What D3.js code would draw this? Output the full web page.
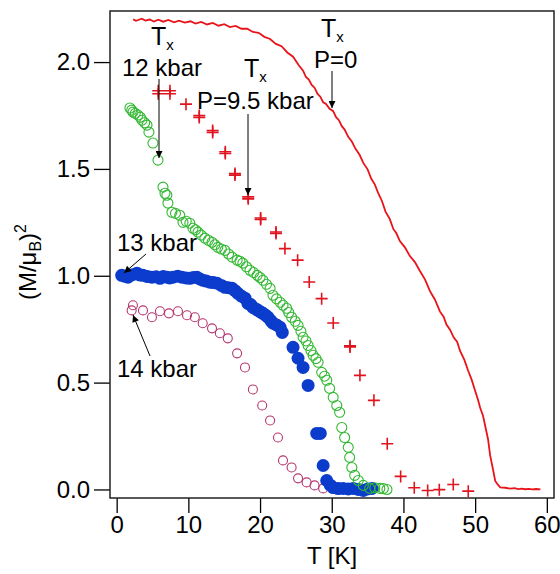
<!DOCTYPE html>
<html><head><meta charset="utf-8">
<script src="https://cdn.jsdelivr.net/npm/d3@7"></script>
<style>body{margin:0;background:#fff;} text{font-family:"Liberation Sans",Arial,Helvetica,sans-serif;}</style>
</head><body><svg id="c" width="560" height="574"></svg>
<script>
// ---- data ----
const xTicks = [0,10,20,30,40,50,60];
const yTicks = [0.0,0.5,1.0,1.5,2.0];
// P = 0 (continuous line)
const p0T = [2.3,2.7,3.0,3.5,4.0,4.6,5.2,5.8,6.5,7.2,8.0,8.7,9.5,10.3,11.0,11.8,12.6,13.4,14.2,15.0,15.8,16.6,17.4,18.2,19.0,19.8,20.6,21.4,22.2,23.0,23.8,24.6,25.4,26.0,26.4,26.8,27.2,27.6,28.0,28.4,28.8,29.2,29.7,30.2,30.6,31.0,31.4,31.8,32.3,32.8,33.3,33.9,34.4,35.0,35.5,36.0,36.5,37.0,37.5,38.1,38.6,39.0,39.5,40.2,40.9,41.6,42.3,43.0,43.7,44.4,45.1,45.6,46.0,46.5,47.0,47.5,47.9,48.5,49.0,49.5,50.0,50.4,50.7,51.1,51.4,51.8,52.1,52.5,52.8,53.2,53.5,54.2,54.9,55.5,56,56.5,57,57.5,58,58.5,59.1];
const p0V = [2.200,2.193,2.197,2.203,2.194,2.199,2.190,2.198,2.189,2.197,2.186,2.194,2.185,2.191,2.180,2.188,2.176,2.183,2.170,2.177,2.164,2.169,2.156,2.156,2.141,2.137,2.118,2.108,2.085,2.074,2.045,2.025,1.985,1.960,1.930,1.918,1.893,1.880,1.852,1.838,1.812,1.804,1.781,1.770,1.742,1.728,1.700,1.684,1.650,1.628,1.595,1.565,1.528,1.498,1.455,1.428,1.385,1.350,1.300,1.265,1.218,1.200,1.162,1.133,1.092,1.064,1.022,0.983,0.928,0.888,0.832,0.808,0.772,0.748,0.712,0.690,0.648,0.606,0.558,0.515,0.462,0.420,0.382,0.345,0.298,0.235,0.158,0.092,0.040,0.021,0.010,0.008,0.004,0.006,0.002,0.004,0.001,0.003,0.000,0.002,0.000];
// P = 9.5 kbar (crosses)
const p95T = [5.8,5.8,7.43,7.43,9.67,11.52,11.52,13.39,13.39,15.15,15.15,16.5,16.5,18.35,18.35,20.08,20.08,22.22,22.22,23.47,25.24,26.86,28.59,30.21,32.55,32.55,33.93,35.88,37.74,39.61,41.51,43.38,45.0,46.95,49.04];
const p95V = [1.866,1.852,1.866,1.852,1.803,1.741,1.750,1.671,1.680,1.580,1.572,1.471,1.478,1.369,1.360,1.263,1.270,1.198,1.205,1.127,1.073,0.971,0.893,0.779,0.667,0.672,0.534,0.417,0.214,0.061,0.008,-0.005,-0.001,0.023,-0.008];
// P = 12 kbar (open green circles)
const p12T = [1.85,2.1,2.27,2.6,2.97,3.3,3.53,3.9,4.23,4.5,5.06,5.76,6.46,6.74,7.0,7.15,7.7,8.2,8.8,9.25,9.7,10.2,10.64,11.0,11.34,11.8,12.3,12.8,13.3,13.7,14.1,14.6,15.1,15.6,16.1,16.8,17.2,17.6,18.1,18.6,19.1,19.6,20.0,20.4,20.9,21.4,21.8,22.3,22.8,23.2,23.7,24.0,24.4,24.9,25.3,25.7,26.0,26.4,26.7,27.1,27.4,27.8,28.1,28.6,29.0,29.3,29.7,30.2,30.7,31.1,31.4,31.8,32.3,32.5,32.8,33.2,33.7,34.4,35.3,36.0,36.7,37.2,37.7];
const p12V = [1.785,1.775,1.766,1.760,1.752,1.742,1.728,1.716,1.705,1.672,1.621,1.541,1.415,1.386,1.377,1.340,1.297,1.292,1.283,1.250,1.255,1.246,1.222,1.215,1.204,1.190,1.176,1.166,1.157,1.145,1.133,1.125,1.119,1.102,1.087,1.073,1.068,1.059,1.042,1.026,1.015,1.002,0.992,0.979,0.960,0.941,0.909,0.892,0.876,0.862,0.848,0.828,0.806,0.787,0.768,0.740,0.712,0.695,0.674,0.650,0.628,0.612,0.595,0.548,0.530,0.511,0.473,0.431,0.393,0.361,0.290,0.243,0.197,0.150,0.103,0.066,0.042,0.019,0.005,0.008,0.005,0.004,0.000];
// P = 13 kbar (filled blue circles)
const p13T = [0.70,1.1,1.58,2.2,2.83,3.2,3.67,4.3,4.92,5.5,6.04,6.5,7.02,7.4,7.85,8.5,9.11,9.7,10.2,10.7,11.2,11.6,12.0,12.5,13.0,13.5,14.0,14.6,15.1,15.6,16.1,16.5,16.9,17.4,17.9,18.3,18.7,19.0,19.4,19.7,20.1,20.4,20.8,21.1,21.5,21.8,22.3,22.8,23.1,24.6,25.3,26.0,26.7,27.9,28.4,28.8,29.3,29.8,30.2,30.9,31.6,32.3,33.0,33.7,34.4,35.0,35.6];
const p13V = [1.002,0.998,0.993,1.005,1.012,1.004,1.002,0.996,0.993,0.995,0.988,0.996,0.993,0.990,0.993,0.998,0.993,0.990,0.988,0.992,0.993,0.985,0.979,0.975,0.970,0.968,0.965,0.955,0.946,0.944,0.941,0.930,0.918,0.905,0.895,0.871,0.865,0.852,0.845,0.838,0.830,0.824,0.815,0.806,0.790,0.778,0.770,0.759,0.735,0.665,0.614,0.571,0.487,0.262,0.262,0.112,0.042,0.020,0.009,0.004,0.005,0.002,0.005,0.000,-0.005,0.002,0.005];
// P = 14 kbar (open magenta circles)
const p14T = [2.09,2.27,3.67,4.92,6.04,7.29,8.55,9.81,10.9,12.0,13.3,14.4,15.5,16.8,17.9,19.0,20.3,21.4,22.5,23.2,24.4,25.3,26.5,27.6,28.8,30.2,31.1];
const p14V = [0.838,0.862,0.838,0.806,0.834,0.824,0.834,0.815,0.806,0.778,0.754,0.731,0.707,0.637,0.571,0.468,0.393,0.323,0.243,0.136,0.103,0.052,0.033,0.019,0.005,0.009,0.009];

const zip = (a,b)=>a.map((d,i)=>[d,b[i]]);

const svg = d3.select("#c");
const x = d3.scaleLinear().domain([-0.93, 61.0]).range([110, 554]);
const y = d3.scaleLinear().domain([-0.04, 2.239]).range([498, 11]);

const defs = svg.append("defs");
defs.append("marker").attr("id","ah").attr("viewBox","0 0 10 10").attr("refX",10).attr("refY",5)
  .attr("markerWidth",9).attr("markerHeight",7).attr("markerUnits","userSpaceOnUse").attr("orient","auto")
  .append("path").attr("d","M0,0L10,5L0,10Z").attr("fill","#000");

// axes
const xAxis = d3.axisBottom(x).tickValues(xTicks).tickSize(15).tickPadding(3).tickFormat(d3.format("d"));
const gx = svg.append("g").attr("transform","translate(0,498)").call(xAxis);
gx.select(".domain").remove();
const yAxis = d3.axisLeft(y).tickValues(yTicks).tickSize(16).tickPadding(4).tickFormat(d3.format(".1f"));
const gy = svg.append("g").attr("transform","translate(110,0)").call(yAxis);
gy.select(".domain").remove();
svg.selectAll(".tick line").attr("stroke","#000").attr("stroke-width",1.3);
svg.selectAll(".tick text").attr("fill","#000").style("font-size","24px").style("font-family","'Liberation Sans',Arial,sans-serif");

// frame
svg.append("rect").attr("x",110).attr("y",11).attr("width",444).attr("height",487)
  .attr("fill","none").attr("stroke","#222").attr("stroke-width",1.5);

// axis titles
svg.append("text").attr("x",332).attr("y",564).attr("text-anchor","middle").style("font-size","24px").text("T [K]");
const yl = svg.append("text").attr("transform","translate(36,262) rotate(-90)").attr("text-anchor","middle").style("font-size","24px");
yl.append("tspan").text("(M/μ");
yl.append("tspan").attr("dy",5).style("font-size","16px").text("B");
yl.append("tspan").attr("dy",-5).text(")");
yl.append("tspan").attr("dy",-10).style("font-size","16px").text("2");

// data: P=0 line
const line = d3.line().x(d=>x(d[0])).y(d=>y(d[1]));
svg.append("path").datum(zip(p0T,p0V)).attr("d",line).attr("fill","none").attr("stroke","#e8141a").attr("stroke-width",1.8);

// 14 kbar
svg.append("g").selectAll("circle").data(zip(p14T,p14V)).join("circle")
  .attr("cx",d=>x(d[0])).attr("cy",d=>y(d[1])).attr("r",4.5)
  .attr("fill","none").attr("stroke","#b5366f").attr("stroke-width",1.1);
// 13 kbar
svg.append("g").selectAll("circle").data(zip(p13T,p13V)).join("circle")
  .attr("cx",d=>x(d[0])).attr("cy",d=>y(d[1])).attr("r",6.5)
  .attr("fill","#0b3ccc");
// 12 kbar
svg.append("g").selectAll("circle").data(zip(p12T,p12V)).join("circle")
  .attr("cx",d=>x(d[0])).attr("cy",d=>y(d[1])).attr("r",5)
  .attr("fill","none").attr("stroke","#33b833").attr("stroke-width",1.1);
// 9.5 kbar crosses
svg.append("g").selectAll("path").data(zip(p95T,p95V)).join("path")
  .attr("transform",d=>`translate(${x(d[0])},${y(d[1])})`)
  .attr("d","M-6,0H6M0,-6V6").attr("stroke","#e0141e").attr("stroke-width",1.6).attr("fill","none");

// annotations
function tx(xx,yy){
  const t = svg.append("text").attr("x",xx).attr("y",yy).style("font-size","25px");
  t.append("tspan").text("T");
  t.append("tspan").attr("dy",5).style("font-size","15px").text("x");
}
function label(xx,yy,s){ svg.append("text").attr("x",xx).attr("y",yy).style("font-size","24px").text(s); }
function arrow(x1,y1,x2,y2){ svg.append("line").attr("x1",x1).attr("y1",y1).attr("x2",x2).attr("y2",y2)
  .attr("stroke","#000").attr("stroke-width",1).attr("marker-end","url(#ah)"); }

tx(151,45); label(122,76,"12 kbar"); arrow(159,79,159,158);
tx(244,77); label(197,109,"P=9.5 kbar"); arrow(248,114,248,195);
tx(321,37); label(314,68,"P=0"); arrow(332,71,332,108);
label(117,251,"13 kbar"); arrow(146,254,124,273);
label(117,377,"14 kbar"); arrow(150,356,133,315);
</script></body></html>
